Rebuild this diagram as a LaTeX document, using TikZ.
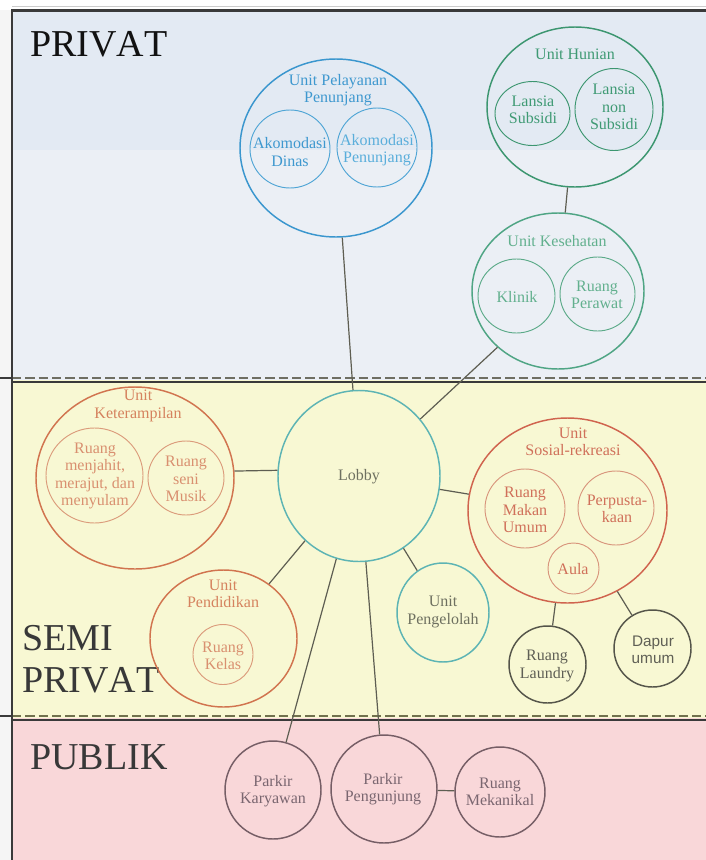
\documentclass[tikz,border=0pt]{standalone}
\usepackage{fontspec}
\setmainfont{Liberation Serif}
\newfontfamily\sansf{Liberation Sans}
\newfontfamily\bigf[Kerning=Off]{Liberation Serif}
\usetikzlibrary{shapes.geometric}
\definecolor{privA}{HTML}{E3EAF3}
\definecolor{privB}{HTML}{EBEFF5}
\definecolor{semiC}{HTML}{F8F8D3}
\definecolor{pubC}{HTML}{F9D7D9}
\definecolor{frameC}{HTML}{3A3A3A}
\definecolor{dashC}{HTML}{6E6E62}
\definecolor{blueC}{HTML}{3A96CE}
\definecolor{blueI}{HTML}{4FA5D5}
\definecolor{blueT}{HTML}{3E98CF}
\definecolor{blueL}{HTML}{5AAEDB}
\definecolor{greenC}{HTML}{3C9670}
\definecolor{greenK}{HTML}{4FA584}
\definecolor{greenI}{HTML}{5BAA88}
\definecolor{greenT}{HTML}{3F9A74}
\definecolor{greenL}{HTML}{62B08E}
\definecolor{orC}{HTML}{D1744F}
\definecolor{orI}{HTML}{DB9B7B}
\definecolor{orT}{HTML}{D5825E}
\definecolor{orL}{HTML}{D99070}
\definecolor{sosC}{HTML}{D0644E}
\definecolor{sosI}{HTML}{D8957C}
\definecolor{sosT}{HTML}{D0705A}
\definecolor{tealC}{HTML}{5DB4B4}
\definecolor{grayT}{HTML}{6E7060}
\definecolor{darkC}{HTML}{55554A}
\definecolor{darkT}{HTML}{5F5F55}
\definecolor{pubK}{HTML}{765E66}
\definecolor{pubT}{HTML}{7A6670}
\definecolor{lineC}{HTML}{5E5E52}
\tikzset{
  ov/.style 2 args={draw, ellipse, minimum width=#1*1.5pt, minimum height=#2*1.5pt, inner sep=0pt, line width=1.1pt},
  ovi/.style 2 args={draw, ellipse, minimum width=#1*1.5pt, minimum height=#2*1.5pt, inner sep=0pt, line width=0.7pt},
  txt/.style={font=\fontsize{12}{13}\selectfont, align=center, inner sep=0pt},
  big/.style={font=\bigf\fontsize{28.5}{31.5}\selectfont, inner sep=0pt, anchor=base west},
  conn/.style={draw=lineC, line width=0.9pt},
}
\begin{document}
\begin{tikzpicture}[x=0.75pt,y=-0.75pt]
\useasboundingbox (0,0) rectangle (706,860);
% backgrounds
\fill[white] (0,0) rectangle (706,860);
\fill[black!4] (0,10) rectangle (12,860);
\fill[privA] (12,10) rectangle (706,150);
\fill[privB] (12,150) rectangle (706,380);
\fill[semiC] (12,380) rectangle (706,718);
\fill[pubC] (12,718) rectangle (706,860);
\draw[black!20, line width=0.8pt] (12,6.5) -- (706,6.5);
% zone borders
\draw[dashC, line width=1.5pt, dash pattern=on 7pt off 3pt] (12,378) -- (706,378);
\draw[frameC, line width=1.5pt] (0,378) -- (12,378);
\draw[frameC, line width=1.3pt] (12,382) -- (706,382);
\draw[dashC!80!olive, line width=1.5pt, dash pattern=on 7pt off 3pt] (12,716) -- (706,716);
\draw[frameC, line width=1.5pt] (0,716) -- (12,716);
\draw[frameC, line width=1.5pt] (12,720) -- (706,720);
\draw[frameC, line width=1.6pt] (12,860) -- (12,10.5) -- (706,10.5);
% zone labels
\node[big, text=black!93] (lpriv) at (30,56) {PRIVAT};
\node[big, text=black!78] (lsemi) at (22,650) {SEMI};
\node[big, text=black!78] (lsemi2) at (22,692) {PRIVAT};
\node[big, text=black!78] (lpub) at (30,769) {PUBLIK};
% ---------- PRIVAT ----------
\node[ov={96}{89}, draw=blueC] (pel) at (336,148) {};
\node[txt, text=blueT] (pelT) at (338,90) {Unit Pelayanan\\Penunjang};
\node[ovi={40}{39}, draw=blueI] (dinas) at (290,149) {};
\node[txt, text=blueT] (dinasT) at (290,152) {Akomodasi\\Dinas};
\node[ovi={40}{39.5}, draw=blueI] (akpen) at (377,147.5) {};
\node[txt, text=blueL] (akpenT) at (377,150) {Akomodasi\\Penunjang};

\node[ov={88}{80}, draw=greenC] (hun) at (575,107) {};
\node[txt, text=greenT, anchor=base] (hunT) at (575,59) {Unit Hunian};
\node[ovi={37.5}{32}, draw=greenC] (ls) at (532.5,113.5) {};
\node[txt, text=greenT] (lsT) at (533,110) {Lansia\\Subsidi};
\node[ovi={39}{41}, draw=greenC] (lns) at (614,109.5) {};
\node[txt, text=greenT] (lnsT) at (614,107) {Lansia\\non\\Subsidi};

\node[ov={86}{78}, draw=greenK] (kes) at (558,291) {};
\node[txt, text=greenL, anchor=base] (kesT) at (557,246) {Unit Kesehatan};
\node[ovi={38.5}{37}, draw=greenI] (kli) at (516.5,296) {};
\node[txt, text=greenL, anchor=base] (kliT) at (517,302) {Klinik};
\node[ovi={37.5}{37}, draw=greenI] (per) at (597.5,294) {};
\node[txt, text=greenL] (perT) at (597,295) {Ruang\\Perawat};
% ---------- SEMI PRIVAT ----------
\node[ov={81}{85.5}, draw=tealC] (lobby) at (359,476) {};
\node[txt, text=grayT, anchor=base] (lobbyT) at (359,480) {Lobby};

\node[ov={99}{91}, draw=orC] (ket) at (135,478) {};
\node[txt, text=orT] (ketT) at (138,406) {Unit\\Keterampilan};
\node[ovi={48.5}{47.5}, draw=orI] (jah) at (94.5,475.5) {};
\node[txt, text=orL] (jahT) at (95,476) {Ruang\\menjahit,\\merajut, dan\\menyulam};
\node[ovi={38}{37}, draw=orI] (mus) at (186,478) {};
\node[txt, text=orL] (musT) at (186,479) {Ruang\\seni\\Musik};

\node[ov={73.5}{68.5}, draw=orC] (pend) at (223.5,638.5) {};
\node[txt, text=orT] (pendT) at (223,594) {Unit\\Pendidikan};
\node[ovi={30}{30}, draw=orI] (kel) at (223,654.5) {};
\node[txt, text=orL] (kelT) at (223,656) {Ruang\\Kelas};

\node[ov={46}{49.5}, draw=tealC] (peng) at (443,612.5) {};
\node[txt, text=grayT] (pengT) at (443,612) {Unit\\Pengelolah};

\node[ov={99.5}{92.5}, draw=sosC] (sos) at (567.5,510.5) {};
\node[txt, text=sosT] (sosT) at (573,442) {Unit\\Sosial-rekreasi};
\node[ovi={40}{39.5}, draw=sosI] (mak) at (525,508.5) {};
\node[txt, text=sosT] (makT) at (525,510) {Ruang\\Makan\\Umum};
\node[ovi={38}{37}, draw=sosI] (pus) at (616,508) {};
\node[txt, text=sosT] (pusT) at (617,509) {Perpusta-\\kaan};
\node[ovi={25.5}{25.5}, draw=sosI] (aula) at (573.5,568.5) {};
\node[txt, text=sosT, anchor=base] (aulaT) at (573,574) {Aula};

\node[ov={38.5}{38.5}, draw=darkC] (lau) at (547.5,664.5) {};
\node[txt, text=darkT] (lauT) at (547,666) {Ruang\\Laundry};
\node[ov={38.5}{38.5}, draw=darkC] (dap) at (652.5,648.5) {};
\node[txt, text=darkT, font=\sansf\fontsize{11.5}{13}\selectfont] (dapT) at (653,650) {Dapur\\umum};
% ---------- PUBLIK ----------
\node[ov={48}{49}, draw=pubK] (pkar) at (273,790) {};
\node[txt, text=pubT] (pkarT) at (273,791) {Parkir\\Karyawan};
\node[ov={53}{54}, draw=pubK] (ppen) at (384,789) {};
\node[txt, text=pubT] (ppenT) at (383,789) {Parkir\\Pengunjung};
\node[ov={45}{45}, draw=pubK] (mek) at (500,792) {};
\node[txt, text=pubT] (mekT) at (500,792) {Ruang\\Mekanikal};
% ---------- connectors ----------
\draw[conn] (pel) -- (lobby);
\draw[conn] (hun) -- (kes);
\draw[conn] (lobby) -- (kes);
\draw[conn] (ket.4) -- (lobby.176);
\draw[conn] (lobby) -- (sos);
\draw[conn] (lobby) -- (pend);
\draw[conn] (lobby) -- (peng);
\draw[conn] (lobby) -- (pkar);
\draw[conn] (lobby) -- (ppen);
\draw[conn] (ppen) -- (mek);
\draw[conn] (sos) -- (lau);
\draw[conn] (sos) -- (dap);
\end{tikzpicture}
\end{document}
